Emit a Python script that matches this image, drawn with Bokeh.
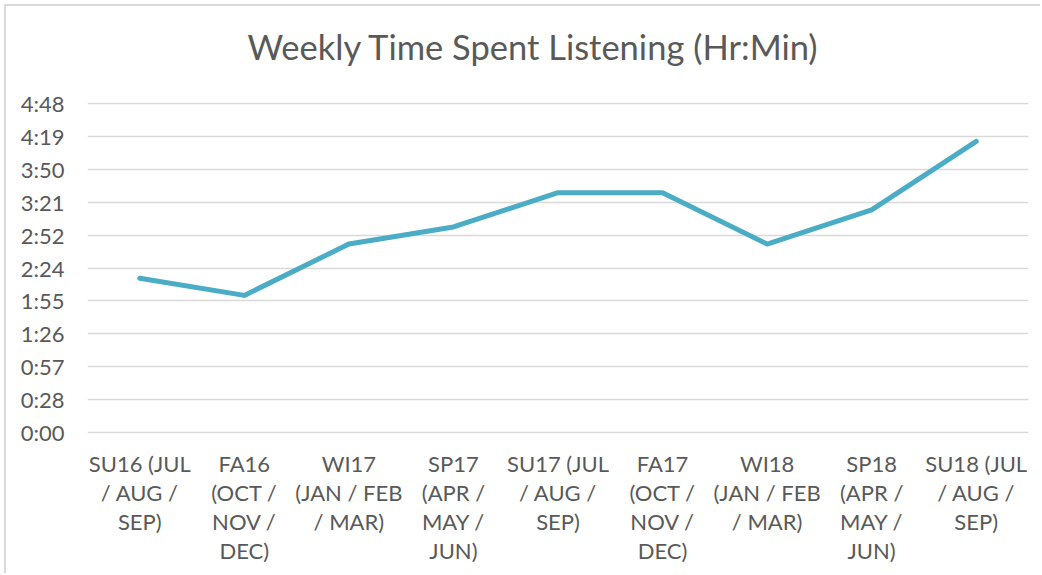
from bokeh.plotting import figure
from bokeh.models import Range1d, FixedTicker, Title
from bokeh.embed import file_html
from bokeh.resources import INLINE

# ---- data ----
categories = [
    "SU16 (JUL / AUG / SEP)", "FA16 (OCT / NOV / DEC)", "WI17 (JAN / FEB / MAR)",
    "SP17 (APR / MAY / JUN)", "SU17 (JUL / AUG / SEP)", "FA17 (OCT / NOV / DEC)",
    "WI18 (JAN / FEB / MAR)", "SP18 (APR / MAY / JUN)", "SU18 (JUL / AUG / SEP)",
]
category_labels = [
    "SU16 (JUL\n/ AUG /\nSEP)", "FA16\n(OCT /\nNOV /\nDEC)", "WI17\n(JAN / FEB\n/ MAR)",
    "SP17\n(APR /\nMAY /\nJUN)", "SU17 (JUL\n/ AUG /\nSEP)", "FA17\n(OCT /\nNOV /\nDEC)",
    "WI18\n(JAN / FEB\n/ MAR)", "SP18\n(APR /\nMAY /\nJUN)", "SU18 (JUL\n/ AUG /\nSEP)",
]
listening_time = ["2:15", "2:00", "2:45", "3:00", "3:30", "3:30", "2:45", "3:15", "4:15"]
y_tick_minutes = [0, 28.8, 57.6, 86.4, 115.2, 144.0, 172.8, 201.6, 230.4, 259.2, 288.0]
y_tick_labels = ["0:00", "0:28", "0:57", "1:26", "1:55", "2:24", "2:52", "3:21", "3:50", "4:19", "4:48"]
chart_title = "Weekly Time Spent Listening (Hr:Min)"


def to_minutes(s):
    h, m = s.split(":")
    return int(h) * 60 + int(m)


minutes = [to_minutes(s) for s in listening_time]
xpos = list(range(len(categories)))

FONT = "Lato"
GREY = "#595959"

p = figure(
    x_range=Range1d(-0.5, len(categories) - 0.5), y_range=Range1d(-1, 289),
    width=1036, height=569,
    output_backend="svg", toolbar_location=None,
    min_border_left=81, min_border_right=14, min_border_top=96, min_border_bottom=142,
)
p.styles = {
    "margin-left": "4px", "margin-top": "4px",
    "border-left": "2px solid #d9d9d9", "border-top": "2px solid #d9d9d9",
}

# spacer between the frame and the title, then the title itself
p.add_layout(Title(text=" ", text_font_size="1px", standoff=33), "above")
p.add_layout(Title(
    text=chart_title, align="left", offset=160, standoff=0,
    text_font=FONT, text_font_size="34.5px", text_font_style="normal", text_color=GREY,
), "above")

p.line(xpos, minutes, line_color="#4BACC6", line_width=5, line_join="round", line_cap="round")

p.outline_line_color = None
p.background_fill_color = "white"
p.border_fill_color = "white"

p.xgrid.grid_line_color = None
p.ygrid.grid_line_color = "#d9d9d9"
p.ygrid.grid_line_width = 1.3

p.yaxis.ticker = FixedTicker(ticks=y_tick_minutes)
p.yaxis.major_label_overrides = {t: l for t, l in zip(y_tick_minutes, y_tick_labels)}
p.yaxis.axis_line_color = None
p.yaxis.major_tick_line_color = None
p.yaxis.minor_tick_line_color = None
p.yaxis.major_label_standoff = 17
p.yaxis.major_label_text_font = FONT
p.yaxis.major_label_text_font_size = "22px"
p.yaxis.major_label_text_color = GREY

p.xaxis.ticker = FixedTicker(ticks=xpos)
p.xaxis.major_label_overrides = dict(zip(xpos, category_labels))
p.xaxis.axis_line_color = None
p.xaxis.major_tick_line_color = None
p.xaxis.minor_tick_line_color = None
p.xaxis.major_label_standoff = 10
p.xaxis.major_label_text_font = FONT
p.xaxis.major_label_text_font_size = "22px"
p.xaxis.major_label_text_color = GREY
p.xaxis.major_label_text_line_height = 1.08

open("out.html", "w").write(file_html(p, INLINE))
